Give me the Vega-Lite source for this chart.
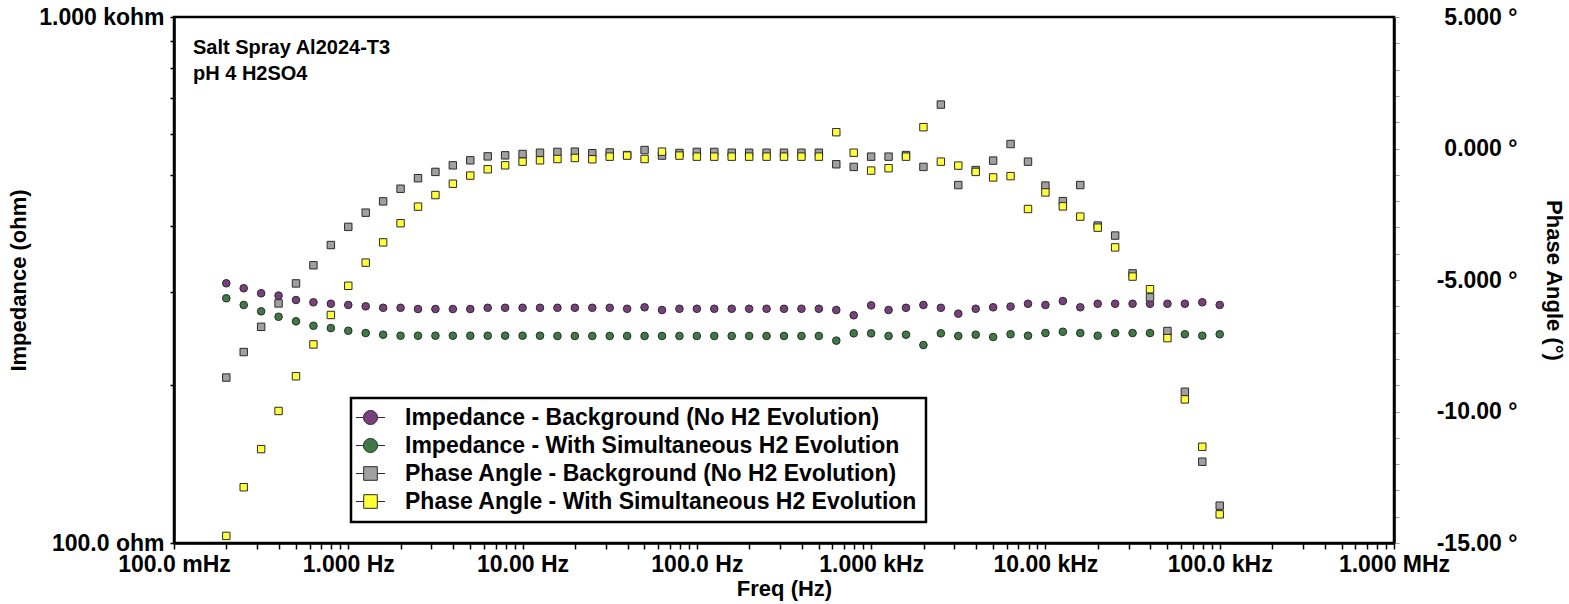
{
  "$schema": "https://vega.github.io/schema/vega-lite/v6.json",
  "autosize": "none",
  "width": 1220,
  "height": 526,
  "padding": {"left": 174, "top": 17, "right": 175, "bottom": 61},
  "background": "white",
  "title": {
    "text": ["Salt Spray Al2024-T3", "pH 4 H2SO4"],
    "orient": "top",
    "anchor": "start",
    "frame": "group",
    "offset": -94,
    "dx": 19,
    "baseline": "alphabetic",
    "lineHeight": 26,
    "font": "Liberation Sans",
    "fontSize": 20,
    "fontWeight": "bold",
    "color": "black"
  },
  "datasets": {
    "eis": [
      {"f": 0.19953, "zb": 311.7, "zh": 291.9, "pb": -8.71, "ph": -14.73},
      {"f": 0.25119, "zb": 305.0, "zh": 283.5, "pb": -7.74, "ph": -12.88},
      {"f": 0.31623, "zb": 298.4, "zh": 275.7, "pb": -6.78, "ph": -11.43},
      {"f": 0.39811, "zb": 295.3, "zh": 269.2, "pb": -5.89, "ph": -9.98},
      {"f": 0.50119, "zb": 289.7, "zh": 263.9, "pb": -5.13, "ph": -8.66},
      {"f": 0.63096, "zb": 286.8, "zh": 258.8, "pb": -4.44, "ph": -7.45},
      {"f": 0.79433, "zb": 285.0, "zh": 256.2, "pb": -3.67, "ph": -6.33},
      {"f": 1.0, "zb": 283.5, "zh": 253.2, "pb": -2.98, "ph": -5.22},
      {"f": 1.2589, "zb": 281.8, "zh": 250.7, "pb": -2.44, "ph": -4.34},
      {"f": 1.5849, "zb": 280.0, "zh": 248.9, "pb": -2.01, "ph": -3.57},
      {"f": 1.9953, "zb": 280.0, "zh": 247.8, "pb": -1.53, "ph": -2.84},
      {"f": 2.5119, "zb": 278.5, "zh": 247.8, "pb": -1.13, "ph": -2.21},
      {"f": 3.1623, "zb": 278.5, "zh": 247.8, "pb": -0.89, "ph": -1.77},
      {"f": 3.9811, "zb": 278.5, "zh": 247.8, "pb": -0.64, "ph": -1.34},
      {"f": 5.0119, "zb": 278.5, "zh": 247.8, "pb": -0.45, "ph": -1.03},
      {"f": 6.3096, "zb": 280.0, "zh": 247.8, "pb": -0.30, "ph": -0.79},
      {"f": 7.9433, "zb": 280.0, "zh": 247.8, "pb": -0.26, "ph": -0.64},
      {"f": 10.0, "zb": 280.0, "zh": 247.8, "pb": -0.21, "ph": -0.50},
      {"f": 12.589, "zb": 280.0, "zh": 247.8, "pb": -0.16, "ph": -0.45},
      {"f": 15.849, "zb": 280.0, "zh": 247.5, "pb": -0.13, "ph": -0.40},
      {"f": 19.953, "zb": 280.0, "zh": 247.5, "pb": -0.12, "ph": -0.36},
      {"f": 25.119, "zb": 280.0, "zh": 247.5, "pb": -0.18, "ph": -0.41},
      {"f": 31.623, "zb": 280.0, "zh": 247.5, "pb": -0.15, "ph": -0.31},
      {"f": 39.811, "zb": 278.8, "zh": 247.5, "pb": -0.25, "ph": -0.27},
      {"f": 50.119, "zb": 280.6, "zh": 247.5, "pb": -0.06, "ph": -0.40},
      {"f": 63.096, "zb": 277.3, "zh": 247.5, "pb": -0.27, "ph": -0.12},
      {"f": 79.433, "zb": 278.8, "zh": 247.5, "pb": -0.17, "ph": -0.27},
      {"f": 100.0, "zb": 278.8, "zh": 247.5, "pb": -0.13, "ph": -0.31},
      {"f": 125.89, "zb": 278.8, "zh": 247.5, "pb": -0.13, "ph": -0.31},
      {"f": 158.49, "zb": 278.8, "zh": 247.5, "pb": -0.16, "ph": -0.31},
      {"f": 199.53, "zb": 278.8, "zh": 247.5, "pb": -0.16, "ph": -0.31},
      {"f": 251.19, "zb": 278.8, "zh": 247.5, "pb": -0.16, "ph": -0.31},
      {"f": 316.23, "zb": 278.8, "zh": 247.5, "pb": -0.16, "ph": -0.31},
      {"f": 398.11, "zb": 278.8, "zh": 247.5, "pb": -0.16, "ph": -0.31},
      {"f": 501.19, "zb": 278.8, "zh": 247.5, "pb": -0.16, "ph": -0.31},
      {"f": 630.96, "zb": 277.3, "zh": 242.5, "pb": -0.60, "ph": 0.62},
      {"f": 794.33, "zb": 271.0, "zh": 250.4, "pb": -0.70, "ph": -0.16},
      {"f": 1000.0, "zb": 283.0, "zh": 250.4, "pb": -0.31, "ph": -0.84},
      {"f": 1258.9, "zb": 277.3, "zh": 247.5, "pb": -0.31, "ph": -0.75},
      {"f": 1584.9, "zb": 280.0, "zh": 248.9, "pb": -0.25, "ph": -0.31},
      {"f": 1995.3, "zb": 283.5, "zh": 237.9, "pb": -0.70, "ph": 0.81},
      {"f": 2511.9, "zb": 280.0, "zh": 250.4, "pb": 1.67, "ph": -0.50},
      {"f": 3162.3, "zb": 272.9, "zh": 247.5, "pb": -1.39, "ph": -0.65},
      {"f": 3981.1, "zb": 278.8, "zh": 248.9, "pb": -0.82, "ph": -0.89},
      {"f": 5011.9, "zb": 280.6, "zh": 246.4, "pb": -0.46, "ph": -1.10},
      {"f": 6309.6, "zb": 281.5, "zh": 249.4, "pb": 0.17, "ph": -1.05},
      {"f": 7943.3, "zb": 285.0, "zh": 247.8, "pb": -0.50, "ph": -2.30},
      {"f": 10000, "zb": 283.5, "zh": 250.7, "pb": -1.41, "ph": -1.67},
      {"f": 12589, "zb": 288.4, "zh": 252.1, "pb": -2.00, "ph": -2.20},
      {"f": 15849, "zb": 280.6, "zh": 250.7, "pb": -1.39, "ph": -2.59},
      {"f": 19953, "zb": 285.0, "zh": 247.8, "pb": -2.93, "ph": -3.01},
      {"f": 25119, "zb": 285.0, "zh": 250.7, "pb": -3.31, "ph": -3.76},
      {"f": 31623, "zb": 285.0, "zh": 250.7, "pb": -4.75, "ph": -4.87},
      {"f": 39811, "zb": 285.0, "zh": 250.7, "pb": -5.66, "ph": -5.35},
      {"f": 50119, "zb": 285.0, "zh": 249.4, "pb": -6.94, "ph": -7.21},
      {"f": 63096, "zb": 285.0, "zh": 249.4, "pb": -9.25, "ph": -9.54},
      {"f": 79433, "zb": 286.8, "zh": 247.8, "pb": -11.91, "ph": -11.34},
      {"f": 100000, "zb": 283.5, "zh": 249.4, "pb": -13.58, "ph": -13.91}
    ]
  },
  "data": {"name": "eis"},
  "layer": [
    {
      "transform": [{"fold": ["zb", "zh"], "as": ["series", "value"]}],
      "mark": {"type": "point", "filled": true, "shape": "circle", "size": 58, "stroke": "#2a2a2a", "strokeWidth": 1, "opacity": 1},
      "encoding": {
        "x": {
          "field": "f",
          "type": "quantitative",
          "scale": {"type": "log", "domain": [0.1, 1000000]},
          "axis": {
            "title": "Freq (Hz)",
            "values": [0.1, 0.2, 0.3, 0.4, 0.5, 0.6, 0.7, 0.8, 0.9, 1, 2, 3, 4, 5, 6, 7, 8, 9, 10, 20, 30, 40, 50, 60, 70, 80, 90, 100, 200, 300, 400, 500, 600, 700, 800, 900, 1000, 2000, 3000, 4000, 5000, 6000, 7000, 8000, 9000, 10000, 20000, 30000, 40000, 50000, 60000, 70000, 80000, 90000, 100000, 200000, 300000, 400000, 500000, 600000, 700000, 800000, 900000, 1000000],
            "labelExpr": "datum.value == 0.1 ? '100.0 mHz' : datum.value == 1 ? '1.000 Hz' : datum.value == 10 ? '10.00 Hz' : datum.value == 100 ? '100.0 Hz' : datum.value == 1000 ? '1.000 kHz' : datum.value == 10000 ? '10.00 kHz' : datum.value == 100000 ? '100.0 kHz' : datum.value == 1000000 ? '1.000 MHz' : ''",
            "tickSize": 6,
            "tickWidth": 1.5,
            "labelPadding": 4,
            "titlePadding": 2
          }
        },
        "y": {
          "field": "value",
          "type": "quantitative",
          "scale": {"type": "log", "domain": [100, 1000]},
          "axis": {
            "orient": "left",
            "title": "Impedance (ohm)",
            "values": [100, 200, 300, 400, 500, 600, 700, 800, 900, 1000],
            "labelExpr": "datum.value == 1000 ? '1.000 kohm' : datum.value == 100 ? '100.0 ohm' : ''",
            "tickSize": 4,
            "tickWidth": 1.5,
            "labelPadding": 6,
            "titlePadding": 8
          }
        },
        "color": {
          "field": "series",
          "type": "nominal",
          "scale": {"domain": ["zb", "zh", "pb", "ph"], "range": ["#7a3f7c", "#3e7a46", "#a0a0a0", "#ffff3a"]},
          "legend": {
            "orient": "none",
            "legendX": 177,
            "legendY": 381,
            "title": null,
            "labelExpr": "datum.value == 'zb' ? 'Impedance - Background (No H2 Evolution)' : datum.value == 'zh' ? 'Impedance - With Simultaneous H2 Evolution' : datum.value == 'pb' ? 'Phase Angle - Background (No H2 Evolution)' : 'Phase Angle - With Simultaneous H2 Evolution'",
            "labelLimit": 0,
            "labelFont": "Liberation Sans",
            "labelFontWeight": "bold",
            "labelFontSize": 23,
            "labelColor": "black",
            "labelOffset": 23,
            "symbolSize": 400,
            "symbolStrokeWidth": 1,
            "symbolStrokeColor": "#2a2a2a",
            "symbolOpacity": 1,
            "rowPadding": 4,
            "padding": 8,
            "strokeColor": "black",
            "fillColor": "white",
            "encode": {
              "legend": {
                "update": {
                  "strokeWidth": {"value": 2.5}
                }
              },
              "symbols": {
                "update": {
                  "shape": {"signal": "datum.value == 'zb' || datum.value == 'zh' ? 'M-1.45,0L-0.7,0M0.7,0L1.45,0M0.7,0A0.7,0.7,0,1,1,-0.7,0A0.7,0.7,0,1,1,0.7,0Z' : 'M-1.45,0L-0.68,0M0.68,0L1.45,0M-0.68,-0.68L0.68,-0.68L0.68,0.68L-0.68,0.68Z'"},
                  "stroke": {"value": "#2a2a2a"},
                  "strokeWidth": {"value": 1},
                  "opacity": {"value": 1}
                }
              }
            }
          }
        }
      }
    },
    {
      "transform": [{"fold": ["pb", "ph"], "as": ["series", "value"]}],
      "mark": {"type": "point", "filled": true, "shape": "square", "size": 55, "stroke": "#2a2a2a", "strokeWidth": 1, "opacity": 1},
      "encoding": {
        "x": {"field": "f", "type": "quantitative"},
        "y": {
          "field": "value",
          "type": "quantitative",
          "scale": {"domain": [-15, 5]},
          "axis": {
            "orient": "right",
            "title": "Phase Angle (°)",
            "values": [-15, -14, -13, -12, -11, -10, -9, -8, -7, -6, -5, -4, -3, -2, -1, 0, 1, 2, 3, 4, 5],
            "labelExpr": "datum.value == 5 ? '5.000 °' : datum.value == 0 ? '0.000 °' : datum.value == -5 ? '-5.000 °' : datum.value == -10 ? '-10.00 °' : datum.value == -15 ? '-15.00 °' : ''",
            "labelAlign": "right",
            "tickSize": 5,
            "tickColor": "#9a9a9a",
            "tickWidth": 1,
            "labelPadding": 118,
            "titlePadding": 24
          }
        },
        "color": {"field": "series", "type": "nominal"}
      }
    }
  ],
  "resolve": {"scale": {"y": "independent"}},
  "config": {
    "view": {"stroke": "black", "strokeWidth": 2.5},
    "axis": {
      "grid": false,
      "domainColor": "black",
      "domainWidth": 2.5,
      "tickColor": "black",
      "labelFont": "Liberation Sans",
      "labelFontWeight": "bold",
      "labelFontSize": 23,
      "labelColor": "black",
      "labelOverlap": false,
      "labelFlush": false,
      "labelBound": false,
      "titleFont": "Liberation Sans",
      "titleFontWeight": "bold",
      "titleFontSize": 22,
      "titleColor": "black"
    }
  }
}
